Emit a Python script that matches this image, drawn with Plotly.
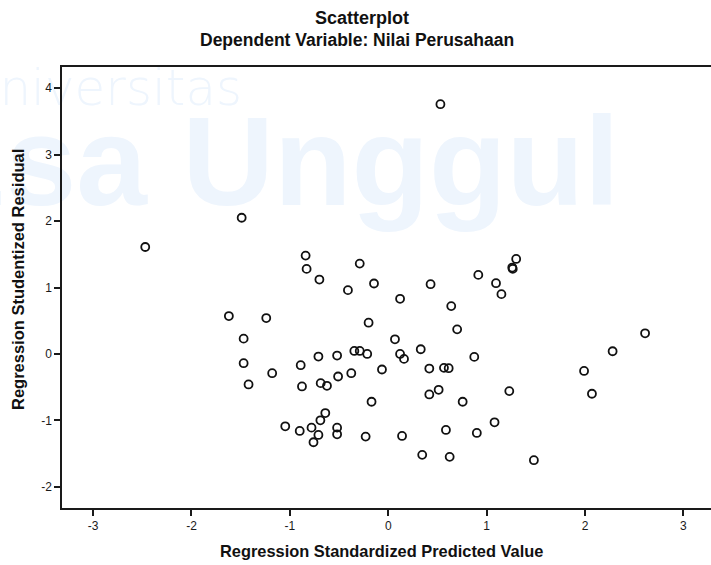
import plotly.graph_objects as go

# Regression Standardized Predicted Value (x) and Studentized Residual (y)
pred = [-2.47, -1.49, -0.84, -0.83, -0.70, -0.29, -0.41, -0.145, 0.53, 1.30,
        1.26, 1.265, 0.915, 0.43, 1.095, 1.15, 0.12, 0.64, 0.70, -0.20,
        0.068, 0.33, 0.12, 0.16, 0.874, 0.417, 0.566, 0.614, -0.064, -0.345,
        -0.29, -0.214, -0.52, -0.71, -0.89, -0.376, -0.51, -0.877, -0.687, -0.623,
        0.417, 0.512, 0.756, -0.17, -0.64, -0.69, -1.047, -0.90, -0.78, -0.71,
        -0.76, -0.52, -0.52, -0.23, 0.14, 0.345, 0.586, 0.624, 0.90, 1.23,
        1.08, 1.48, 1.99, 2.07, 2.28, 2.61, -1.62, -1.24, -1.47, -1.47,
        -1.18, -1.42]
resid = [1.61, 2.05, 1.48, 1.28, 1.12, 1.36, 0.96, 1.06, 3.76, 1.43,
         1.30, 1.28, 1.19, 1.05, 1.065, 0.90, 0.83, 0.72, 0.37, 0.47,
         0.22, 0.07, 0.00, -0.075, -0.045, -0.22, -0.21, -0.215, -0.235, 0.045,
         0.045, 0.00, -0.025, -0.04, -0.17, -0.29, -0.34, -0.49, -0.44, -0.48,
         -0.61, -0.54, -0.72, -0.72, -0.89, -1.00, -1.09, -1.16, -1.11, -1.22,
         -1.33, -1.11, -1.21, -1.245, -1.235, -1.52, -1.145, -1.55, -1.19, -0.56,
         -1.03, -1.60, -0.256, -0.60, 0.04, 0.31, 0.57, 0.54, 0.23, -0.14,
         -0.29, -0.46]

x_ticks = [-3, -2, -1, 0, 1, 2, 3]
y_ticks = [-2, -1, 0, 1, 2, 3, 4]

title_text = "Scatterplot"
subtitle_text = "Dependent Variable: Nilai Perusahaan"
x_title = "Regression Standardized Predicted Value"
y_title = "Regression Studentized Residual"

FONT = "Liberation Sans, Arial, sans-serif"
WM = "#eef5fd"

fig = go.Figure()

# faint watermark (beneath the data)
fig.add_trace(go.Scatter(
    x=[-2.88], y=[3.94], mode="text", text=["universitas"],
    textposition="middle center", cliponaxis=False, hoverinfo="skip",
    textfont=dict(family="DejaVu Sans, sans-serif", size=50, weight=200, color=WM),
    showlegend=False))
fig.add_trace(go.Scatter(
    x=[-1.20], y=[2.72], mode="text", text=["<b>Esa Unggul</b>"],
    textposition="middle center", cliponaxis=False, hoverinfo="skip",
    textfont=dict(family=FONT, size=127, color=WM), showlegend=False))

fig.add_trace(go.Scatter(
    x=pred, y=resid, mode="markers",
    marker=dict(symbol="circle-open", size=8, color="#111111",
                line=dict(width=1.8, color="#111111")),
    showlegend=False))

axis_common = dict(
    showgrid=False, zeroline=False, showline=True, linecolor="#1a1a1a",
    linewidth=1.5, ticks="outside", ticklen=6, tickwidth=1.5, tickcolor="#1a1a1a",
    tickfont=dict(family=FONT, size=12, color="#1a1a1a"),
)

fig.update_xaxes(range=[-3.316, 3.28], tickvals=x_ticks,
                 ticktext=[str(v) for v in x_ticks], mirror=True, **axis_common)
fig.update_yaxes(range=[-2.32, 4.32], tickvals=y_ticks,
                 ticktext=[str(v) for v in y_ticks], mirror=False, **axis_common)

fig.update_layout(
    width=711, height=565,
    margin=dict(l=62, r=0, t=67, b=57),
    paper_bgcolor="white", plot_bgcolor="rgba(0,0,0,0)",
    font=dict(family=FONT, color="#111111"),
    annotations=[
        dict(text="<b>" + title_text + "</b>", xref="paper", yref="paper",
             x=(362 - 62) / 649, y=(508 - 18) / 441, xanchor="center", yanchor="middle",
             showarrow=False, font=dict(family=FONT, size=18, color="#111111")),
        dict(text="<b>" + subtitle_text + "</b>", xref="paper", yref="paper",
             x=(357 - 62) / 649, y=(508 - 40) / 441, xanchor="center", yanchor="middle",
             showarrow=False, font=dict(family=FONT, size=17.5, color="#111111")),
        dict(text="<b>" + x_title + "</b>", xref="paper", yref="paper",
             x=(381 - 62) / 649, y=-(551 - 508) / 441, xanchor="center", yanchor="middle",
             showarrow=False, font=dict(family=FONT, size=16.4, color="#111111")),
        dict(text="<b>" + y_title + "</b>", xref="paper", yref="paper",
             x=(18 - 62) / 649, y=(508 - 280) / 441, xanchor="center", yanchor="middle",
             textangle=-90, showarrow=False, font=dict(family=FONT, size=16.5, color="#111111")),
    ],
)

fig.write_html("out.html", config={"displayModeBar": False},
               post_script="document.body.style.margin='0px';document.body.style.overflow='hidden';")
